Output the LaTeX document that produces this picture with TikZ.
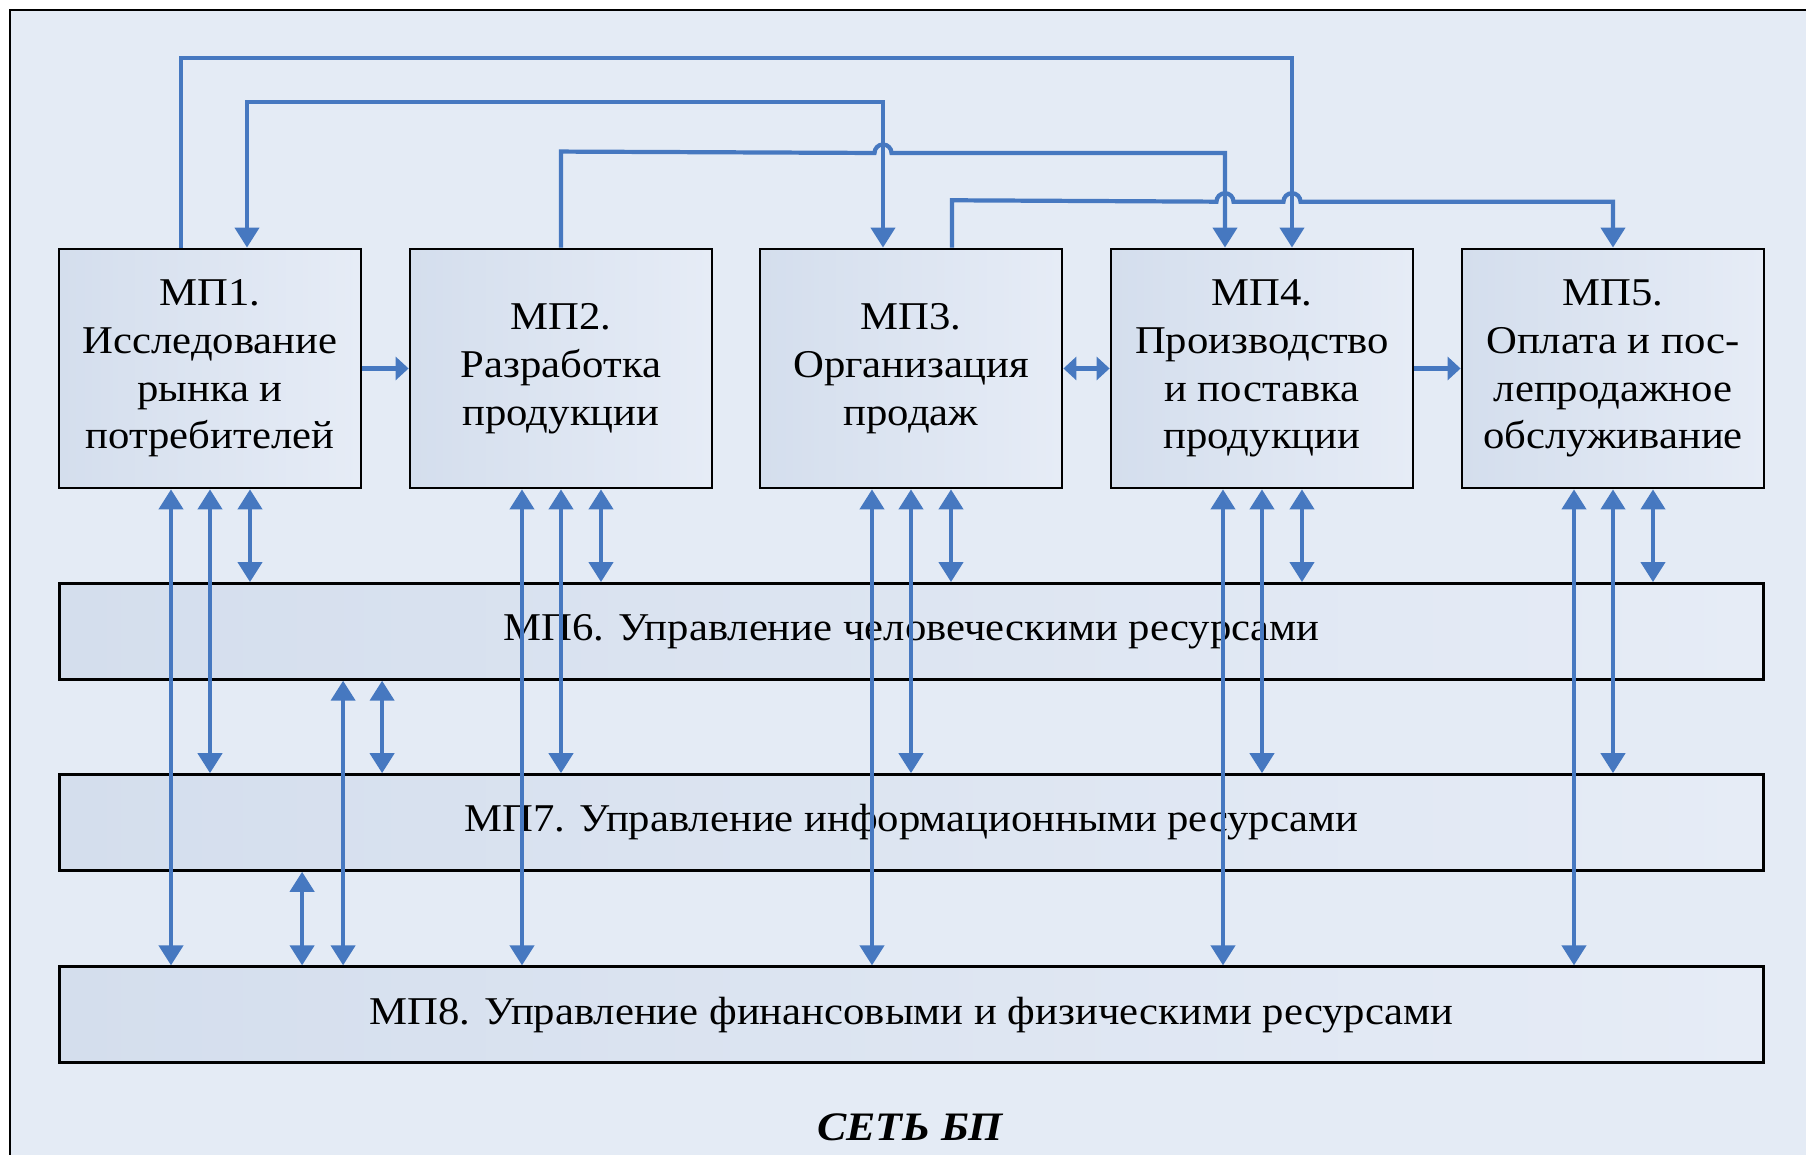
\documentclass[tikz,border=0pt]{standalone}
\usepackage{fontspec}
\setmainfont{Liberation Serif}[FakeStretch=1.085]
\usepackage{tikz}
\usetikzlibrary{arrows.meta}

\definecolor{bgblue}{RGB}{228,235,245}
\definecolor{boxdark}{RGB}{212,222,237}
\definecolor{boxlight}{RGB}{230,236,246}
\definecolor{flowblue}{RGB}{70,120,192}

\begin{document}
\begin{tikzpicture}[>={Triangle[length=2mm,width=2.4mm]},
  mpbox/.style={draw,line width=0.8pt,left color=boxdark,right color=boxlight,inner sep=0pt,align=center,font=\fontsize{11.2}{13.6}\selectfont},
  topbox/.style={mpbox,minimum width=3.02cm,minimum height=2.39cm},
  resbar/.style={mpbox,minimum width=17.04cm,minimum height=0.958cm},
  flow/.style={draw=flowblue,line width=1.2pt},
  hflow/.style={flow,>={Triangle[length=1.3mm,width=2.3mm]}}]
  \useasboundingbox (0,0) rectangle (18.06,11.55);
  \fill[bgblue] (0.10,0) rectangle (18.06,11.45);
  \draw[line width=0.8pt] (0.10,0) -- (0.10,11.45) -- (18.06,11.45);

  \node[topbox] (mp1) at (2.10,7.865) {МП1.\\Исследование\\рынка и\\потребителей};
  \node[topbox] (mp2) at (5.61,7.865) {МП2.\\Разработка\\продукции};
  \node[topbox] (mp3) at (9.11,7.865) {МП3.\\Организация\\продаж};
  \node[topbox] (mp4) at (12.62,7.865) {МП4.\\Производство\\и поставка\\продукции};
  \node[topbox] (mp5) at (16.13,7.865) {МП5.\\Оплата и пос-\\лепродажное\\обслуживание};
  \node[resbar] (mp6) at (9.115,5.236) {МП6. Управление человеческими ресурсами};
  \node[resbar] (mp7) at (9.115,3.325) {МП7. Управление информационными ресурсами};
  \node[resbar] (mp8) at (9.115,1.403) {МП8. Управление финансовыми и физическими ресурсами};
  \node[font=\bfseries\itshape\fontsize{11.5}{13}\selectfont] (net) at (9.10,0.28) {СЕТЬ БП};

  \draw[hflow,->] (mp1.east) -- (mp2.west);
  \draw[hflow,<->] (mp3.east) -- (mp4.west);
  \draw[hflow,->] (mp4.east) -- (mp5.west);

  \draw[flow,->] ([xshift=-2.9mm]mp1.north) -- ++(0,1.897) -| ([xshift=3mm]mp4.north);
  \draw[flow,<->] ([xshift=3.7mm]mp1.north) -- ++(0,1.457) -| ([xshift=-2.8mm]mp3.north);
  \draw[flow,->] (mp2.north) -- ++(0,0.96) -- (8.745,10.02) arc[start angle=180,end angle=0,radius=0.085] -| ([xshift=-3.7mm]mp4.north);
  \draw[flow,->] ([xshift=4.1mm]mp3.north) -- ++(0,0.473) -- (12.165,9.533) arc[start angle=180,end angle=0,radius=0.085]
    -- (12.835,9.533) arc[start angle=180,end angle=0,radius=0.085] -| (mp5.north);

  \draw[flow,<->] ([xshift=-3.9mm]mp1.south) -- ([xshift=-3.9mm]mp1.south |- mp8.north);
  \draw[flow,<->] (mp1.south) -- (mp1.south |- mp7.north);
  \draw[flow,<->] ([xshift=4mm]mp1.south) -- ([xshift=4mm]mp1.south |- mp6.north);
  \draw[flow,<->] ([xshift=-3.9mm]mp2.south) -- ([xshift=-3.9mm]mp2.south |- mp8.north);
  \draw[flow,<->] (mp2.south) -- (mp2.south |- mp7.north);
  \draw[flow,<->] ([xshift=4mm]mp2.south) -- ([xshift=4mm]mp2.south |- mp6.north);
  \draw[flow,<->] ([xshift=-3.9mm]mp3.south) -- ([xshift=-3.9mm]mp3.south |- mp8.north);
  \draw[flow,<->] (mp3.south) -- (mp3.south |- mp7.north);
  \draw[flow,<->] ([xshift=4mm]mp3.south) -- ([xshift=4mm]mp3.south |- mp6.north);
  \draw[flow,<->] ([xshift=-3.9mm]mp4.south) -- ([xshift=-3.9mm]mp4.south |- mp8.north);
  \draw[flow,<->] (mp4.south) -- (mp4.south |- mp7.north);
  \draw[flow,<->] ([xshift=4mm]mp4.south) -- ([xshift=4mm]mp4.south |- mp6.north);
  \draw[flow,<->] ([xshift=-3.9mm]mp5.south) -- ([xshift=-3.9mm]mp5.south |- mp8.north);
  \draw[flow,<->] (mp5.south) -- (mp5.south |- mp7.north);
  \draw[flow,<->] ([xshift=4mm]mp5.south) -- ([xshift=4mm]mp5.south |- mp6.north);

  \draw[flow,<->] ([xshift=2.85cm]mp6.south west) -- ([xshift=2.85cm]mp8.north west);
  \draw[flow,<->] ([xshift=3.24cm]mp6.south west) -- ([xshift=3.24cm]mp7.north west);
  \draw[flow,<->] ([xshift=2.44cm]mp7.south west) -- ([xshift=2.44cm]mp8.north west);
\end{tikzpicture}
\end{document}
